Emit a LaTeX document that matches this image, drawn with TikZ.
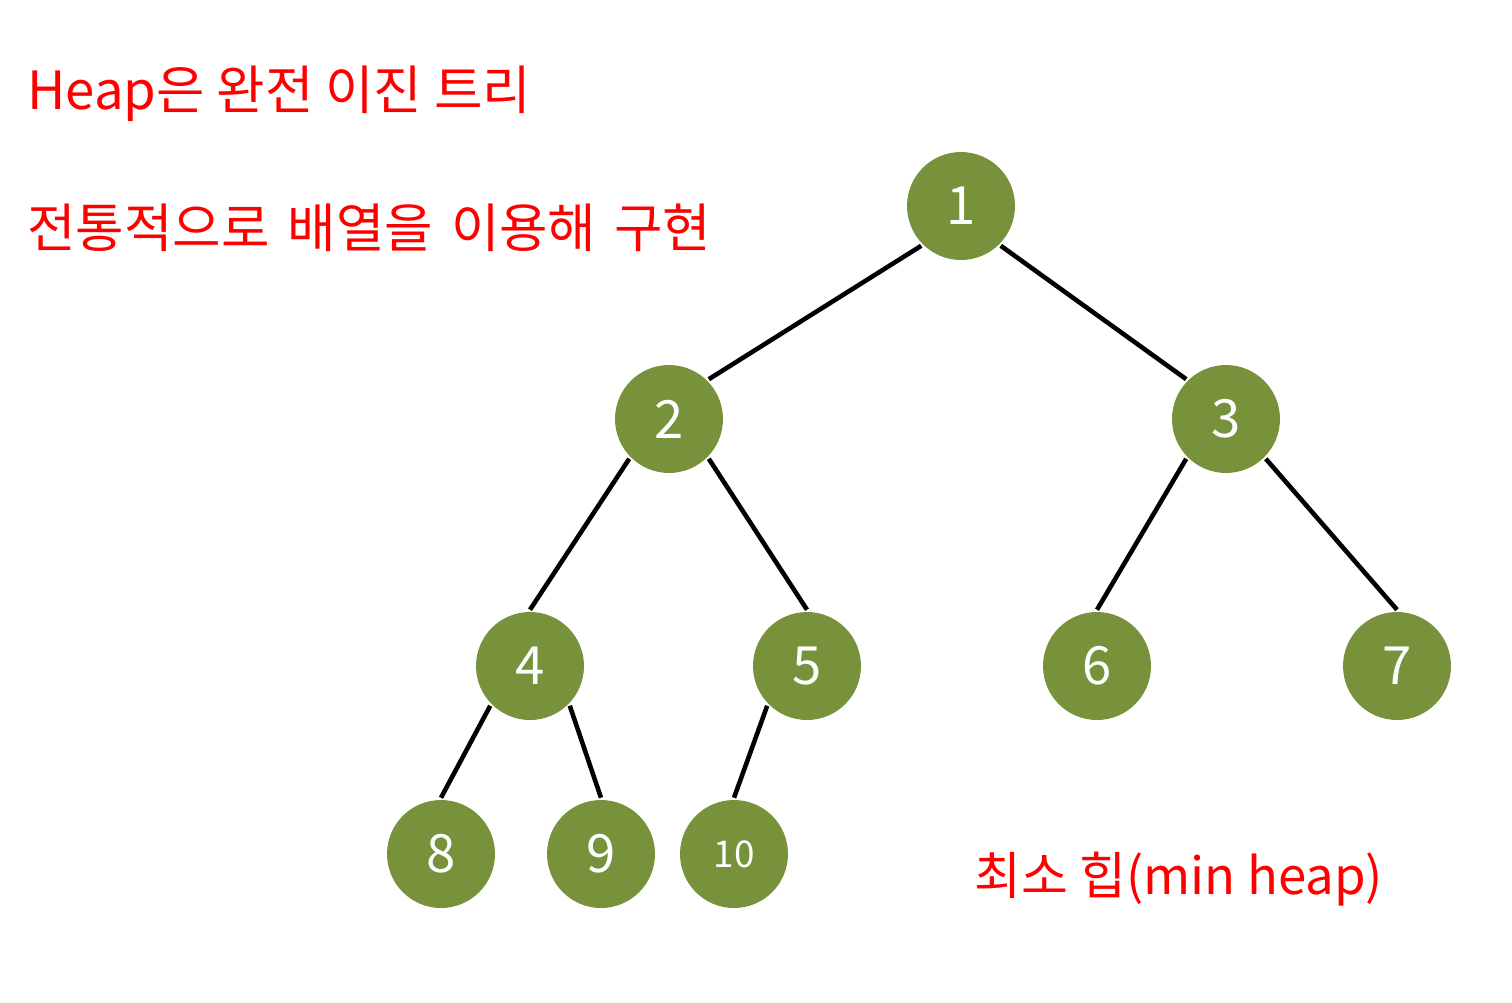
\documentclass[tikz,border=0pt]{standalone}
\usepackage{fontspec}
\setmainfont{Noto Sans CJK KR}
\definecolor{heapgreen}{HTML}{77923A}
\definecolor{notered}{HTML}{FF0000}
\newcommand{\wsp}{\hspace{0.34em}}
\tikzset{
  heapnode/.style={circle, fill=heapgreen, minimum size=2.16cm, inner sep=0pt,
    text=white, font=\fontsize{30}{30}\selectfont},
  smallnum/.style={font=\fontsize{21}{21}\selectfont},
  note/.style={text=notered, anchor=west, inner sep=0pt, font=\fontsize{30}{36}\selectfont}
}
\begin{document}
\begin{tikzpicture}[x=0.02cm, y=-0.02cm, line width=2.6pt]
            \useasboundingbox (0,0) rectangle (1512,1002);
            \node (t1) [note] at (25,94) {Heap은 완전 이진 트리};
            \node (t2) [note] at (25,228) {전통적으로\wsp 배열을\wsp 이용해\wsp 구현};
            \node (t3) [note, font=\fontsize{29}{34}\selectfont] at (972,879) {최소 힙(min heap)};

            \node (1) [heapnode] at (961,206) {1};
            \node (2) [heapnode] at (669,419) {2};
            \node (3) [heapnode] at (1226,419) {3};
            \node (4) [heapnode] at (530,666) {4};
            \node (5) [heapnode] at (807,666) {5};
            \node (6) [heapnode] at (1097,666) {6};
            \node (7) [heapnode] at (1397,666) {7};
            \node (8) [heapnode] at (441,854) {8};
            \node (9) [heapnode] at (601,854) {9};
            \node (10) [heapnode, smallnum] at (734,854) {10};

            \path
            (1.south west) edge (2.north east)
            (1.south east) edge (3.north west)
            (2.south west) edge (4.north)
            (2.south east) edge (5.north)
            (3.south west) edge (6.north)
            (3.south east) edge (7.north)
            (4.south west) edge (8.north)
            (4.south east) edge (9.north)
            (5.south west) edge (10.north);

        \end{tikzpicture}
\end{document}
